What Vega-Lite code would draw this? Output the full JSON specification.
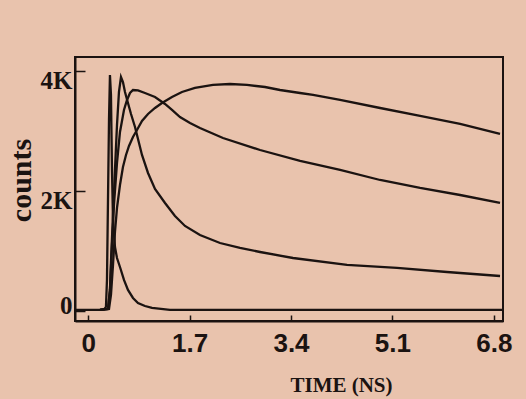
{
  "$schema": "https://vega.github.io/schema/vega-lite/v6.json",
  "width": 428,
  "height": 264,
  "autosize": {"type": "none"},
  "padding": {"left": 75, "top": 57, "right": 23, "bottom": 78},
  "background": "#E9C3AD",
  "config": {"view": {"stroke": "#1b1311", "strokeWidth": 2}},
  "data": {"values": [
    {"series": "IRF", "t": -0.205, "counts": 17},
    {"series": "IRF", "t": 0.198, "counts": 17},
    {"series": "IRF", "t": 0.265, "counts": 25},
    {"series": "IRF", "t": 0.298, "counts": 67},
    {"series": "IRF", "t": 0.315, "counts": 517},
    {"series": "IRF", "t": 0.332, "counts": 1850},
    {"series": "IRF", "t": 0.349, "counts": 3183},
    {"series": "IRF", "t": 0.365, "counts": 3933},
    {"series": "IRF", "t": 0.382, "counts": 3600},
    {"series": "IRF", "t": 0.399, "counts": 2350},
    {"series": "IRF", "t": 0.416, "counts": 1517},
    {"series": "IRF", "t": 0.449, "counts": 1067},
    {"series": "IRF", "t": 0.483, "counts": 883},
    {"series": "IRF", "t": 0.533, "counts": 733},
    {"series": "IRF", "t": 0.600, "counts": 517},
    {"series": "IRF", "t": 0.667, "counts": 350},
    {"series": "IRF", "t": 0.751, "counts": 217},
    {"series": "IRF", "t": 0.835, "counts": 133},
    {"series": "IRF", "t": 0.952, "counts": 83},
    {"series": "IRF", "t": 1.070, "counts": 50},
    {"series": "IRF", "t": 1.371, "counts": 17},
    {"series": "IRF", "t": 2.712, "counts": 17},
    {"series": "IRF", "t": 4.389, "counts": 17},
    {"series": "IRF", "t": 6.065, "counts": 17},
    {"series": "IRF", "t": 6.937, "counts": 17},

    {"series": "fast", "t": 0.198, "counts": 17},
    {"series": "fast", "t": 0.332, "counts": 33},
    {"series": "fast", "t": 0.365, "counts": 350},
    {"series": "fast", "t": 0.382, "counts": 817},
    {"series": "fast", "t": 0.416, "counts": 1600},
    {"series": "fast", "t": 0.449, "counts": 2350},
    {"series": "fast", "t": 0.483, "counts": 3100},
    {"series": "fast", "t": 0.516, "counts": 3650},
    {"series": "fast", "t": 0.550, "counts": 3900},
    {"series": "fast", "t": 0.583, "counts": 3817},
    {"series": "fast", "t": 0.617, "counts": 3650},
    {"series": "fast", "t": 0.667, "counts": 3467},
    {"series": "fast", "t": 0.718, "counts": 3283},
    {"series": "fast", "t": 0.785, "counts": 3067},
    {"series": "fast", "t": 0.852, "counts": 2800},
    {"series": "fast", "t": 0.902, "counts": 2600},
    {"series": "fast", "t": 1.003, "counts": 2300},
    {"series": "fast", "t": 1.120, "counts": 2033},
    {"series": "fast", "t": 1.288, "counts": 1800},
    {"series": "fast", "t": 1.455, "counts": 1583},
    {"series": "fast", "t": 1.623, "counts": 1417},
    {"series": "fast", "t": 1.874, "counts": 1267},
    {"series": "fast", "t": 2.210, "counts": 1133},
    {"series": "fast", "t": 2.545, "counts": 1050},
    {"series": "fast", "t": 2.881, "counts": 983},
    {"series": "fast", "t": 3.434, "counts": 883},
    {"series": "fast", "t": 4.339, "counts": 767},
    {"series": "fast", "t": 5.177, "counts": 717},
    {"series": "fast", "t": 6.015, "counts": 650},
    {"series": "fast", "t": 6.904, "counts": 583},

    {"series": "medium", "t": 0.198, "counts": 17},
    {"series": "medium", "t": 0.332, "counts": 33},
    {"series": "medium", "t": 0.365, "counts": 350},
    {"series": "medium", "t": 0.399, "counts": 1100},
    {"series": "medium", "t": 0.432, "counts": 1767},
    {"series": "medium", "t": 0.483, "counts": 2467},
    {"series": "medium", "t": 0.533, "counts": 2983},
    {"series": "medium", "t": 0.600, "counts": 3350},
    {"series": "medium", "t": 0.651, "counts": 3517},
    {"series": "medium", "t": 0.701, "counts": 3633},
    {"series": "medium", "t": 0.751, "counts": 3683},
    {"series": "medium", "t": 0.835, "counts": 3675},
    {"series": "medium", "t": 0.952, "counts": 3633},
    {"series": "medium", "t": 1.120, "counts": 3567},
    {"series": "medium", "t": 1.288, "counts": 3450},
    {"series": "medium", "t": 1.405, "counts": 3350},
    {"series": "medium", "t": 1.539, "counts": 3233},
    {"series": "medium", "t": 1.707, "counts": 3133},
    {"series": "medium", "t": 1.874, "counts": 3050},
    {"series": "medium", "t": 2.260, "counts": 2883},
    {"series": "medium", "t": 2.881, "counts": 2683},
    {"series": "medium", "t": 3.552, "counts": 2500},
    {"series": "medium", "t": 4.223, "counts": 2350},
    {"series": "medium", "t": 4.894, "counts": 2183},
    {"series": "medium", "t": 5.564, "counts": 2050},
    {"series": "medium", "t": 6.235, "counts": 1933},
    {"series": "medium", "t": 6.904, "counts": 1800},

    {"series": "slow", "t": 0.198, "counts": 17},
    {"series": "slow", "t": 0.349, "counts": 33},
    {"series": "slow", "t": 0.382, "counts": 267},
    {"series": "slow", "t": 0.416, "counts": 767},
    {"series": "slow", "t": 0.449, "counts": 1317},
    {"series": "slow", "t": 0.483, "counts": 1717},
    {"series": "slow", "t": 0.533, "counts": 2100},
    {"series": "slow", "t": 0.583, "counts": 2400},
    {"series": "slow", "t": 0.634, "counts": 2600},
    {"series": "slow", "t": 0.684, "counts": 2750},
    {"series": "slow", "t": 0.751, "counts": 2900},
    {"series": "slow", "t": 0.818, "counts": 3017},
    {"series": "slow", "t": 0.902, "counts": 3167},
    {"series": "slow", "t": 1.003, "counts": 3283},
    {"series": "slow", "t": 1.120, "counts": 3383},
    {"series": "slow", "t": 1.237, "counts": 3467},
    {"series": "slow", "t": 1.405, "counts": 3567},
    {"series": "slow", "t": 1.572, "counts": 3650},
    {"series": "slow", "t": 1.790, "counts": 3717},
    {"series": "slow", "t": 2.092, "counts": 3767},
    {"series": "slow", "t": 2.377, "counts": 3783},
    {"series": "slow", "t": 2.662, "counts": 3767},
    {"series": "slow", "t": 2.964, "counts": 3733},
    {"series": "slow", "t": 3.216, "counts": 3683},
    {"series": "slow", "t": 3.552, "counts": 3633},
    {"series": "slow", "t": 3.770, "counts": 3600},
    {"series": "slow", "t": 4.223, "counts": 3517},
    {"series": "slow", "t": 4.894, "counts": 3383},
    {"series": "slow", "t": 5.564, "counts": 3250},
    {"series": "slow", "t": 6.235, "counts": 3117},
    {"series": "slow", "t": 6.904, "counts": 2950}
  ]},
  "mark": {"type": "line", "color": "#1b1311", "strokeWidth": 2.3, "interpolate": "linear", "clip": true},
  "encoding": {
    "x": {
      "field": "t",
      "type": "quantitative",
      "scale": {"domain": [-0.221, 6.954], "nice": false, "zero": false},
      "axis": {
        "values": [0, 1.7, 3.4, 5.1, 6.8],
        "labelExpr": "datum.value == 0 ? '0' : format(datum.value, '.1f')",
        "title": "TIME (NS)",
        "grid": false,
        "domainColor": "#1b1311",
        "domainWidth": 2,
        "tickColor": "#1b1311",
        "tickWidth": 1.5,
        "tickSize": -6,
        "labelPadding": 15,
        "labelFont": "Liberation Sans",
        "labelFontWeight": "bold",
        "labelFontSize": 26,
        "labelColor": "#1b1311",
        "labelFlush": false,
        "labelOverlap": false,
        "titleFont": "Liberation Serif",
        "titleFontWeight": "bold",
        "titleFontSize": 21,
        "titleColor": "#1b1311",
        "titleX": 266,
        "titleY": 70,
        "titleAlign": "center",
        "titleBaseline": "alphabetic"
      }
    },
    "y": {
      "field": "counts",
      "type": "quantitative",
      "scale": {"domain": [-167, 4233], "nice": false, "zero": false},
      "axis": {
        "values": [0, 2000, 4000],
        "labelExpr": "datum.value == 0 ? '0' : (datum.value / 1000) + 'K'",
        "title": "counts",
        "grid": false,
        "domainColor": "#1b1311",
        "domainWidth": 2,
        "tickColor": "#1b1311",
        "tickWidth": 1.5,
        "tickSize": -10,
        "labelPadding": 13,
        "labelOffset": {"expr": "datum.value == 0 ? -5 : 10"},
        "labelFont": "Liberation Serif",
        "labelFontWeight": "bold",
        "labelFontSize": 25,
        "labelColor": "#1b1311",
        "labelFlush": false,
        "labelOverlap": false,
        "titleFont": "Liberation Serif",
        "titleFontWeight": "bold",
        "titleFontSize": 30,
        "titleColor": "#1b1311",
        "titleAngle": -90,
        "titleX": -54,
        "titleY": 123,
        "titleAlign": "center",
        "titleBaseline": "middle"
      }
    },
    "detail": {"field": "series", "type": "nominal"}
  }
}
